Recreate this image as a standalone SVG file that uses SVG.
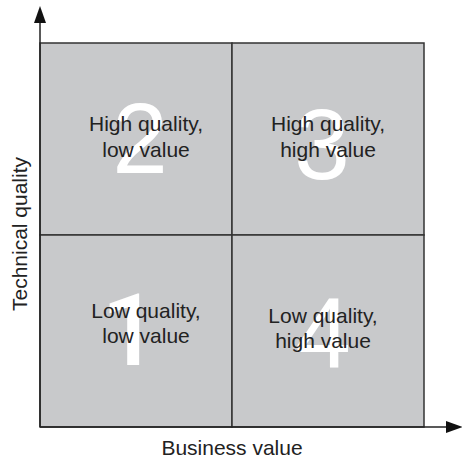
<svg xmlns="http://www.w3.org/2000/svg" width="462" height="460" viewBox="0 0 462 460">
<style>
.cell{fill:#c8c9cb;stroke:#333;stroke-width:1.5}
.axis{stroke:#222;stroke-width:1.5;fill:none}
.big{font-family:"Liberation Sans",Arial,sans-serif;font-size:100px;fill:#fff;text-anchor:middle}
.one{font-family:Roboto,"Liberation Sans",sans-serif;font-weight:500;font-size:101px}
.lbl{font-family:"Liberation Sans",Arial,sans-serif;font-size:21px;fill:#222;text-anchor:middle}
</style>
<rect width="462" height="460" fill="#fff"/>
<g id="q2"><rect class="cell" x="40" y="43" width="192" height="192"/><text class="big" x="140" y="173">2</text><text class="lbl" x="146" y="131">High quality,</text><text class="lbl" x="146" y="157">low value</text></g>
<g id="q3"><rect class="cell" x="232" y="43" width="192" height="192"/><text class="big" x="322" y="179">3</text><text class="lbl" x="328" y="131">High quality,</text><text class="lbl" x="328" y="157">high value</text></g>
<g id="q1"><rect class="cell" x="40" y="235" width="192" height="192"/><text class="big one" x="130" y="365">1</text><text class="lbl" x="146" y="318">Low quality,</text><text class="lbl" x="146" y="343">low value</text></g>
<g id="q4"><rect class="cell" x="232" y="235" width="192" height="192"/><text class="big" x="323" y="368">4</text><text class="lbl" x="323" y="323">Low quality,</text><text class="lbl" x="323" y="348">high value</text></g>
<g id="axes">
<line class="axis" x1="40" y1="427" x2="40" y2="20"/>
<polygon points="40,6 34,23 46,23" fill="#111"/>
<line class="axis" x1="40" y1="427" x2="448" y2="427"/>
<polygon points="463,427 446,421 446,433" fill="#111"/>
</g>
<text class="lbl" x="232" y="455">Business value</text>
<text class="lbl" transform="translate(27,234) rotate(-90)">Technical quality</text>
</svg>
